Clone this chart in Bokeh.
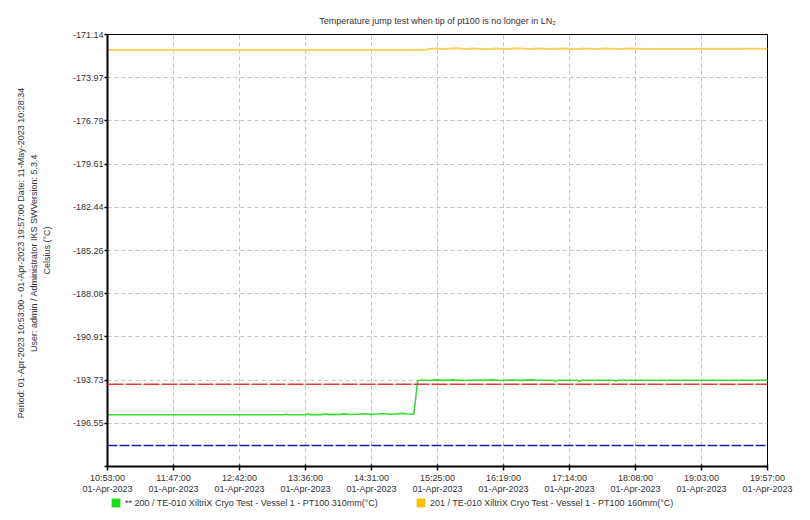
import pandas as pd
from bokeh.plotting import figure
from bokeh.layouts import column
from bokeh.models import Range1d, FixedTicker, Span, Legend, LegendItem
from bokeh.embed import file_html
from bokeh.resources import INLINE

# ---------------- data ----------------
day = "2023-04-01"
start_time = "10:53:00"
end_time = "19:57:00"

x_tick_labels = ["10:53:00", "11:47:00", "12:42:00", "13:36:00", "14:31:00", "15:25:00",
                 "16:19:00", "17:14:00", "18:08:00", "19:03:00", "19:57:00"]
x_date_label = "01-Apr-2023"

y_tick_labels = ["-171.14", "-173.97", "-176.79", "-179.61", "-182.44",
                 "-185.26", "-188.08", "-190.91", "-193.73", "-196.55"]
y_min = -199.38
y_max = -171.14

green_time = ["10:53:00", "13:18:00", "13:20:00", "13:22:00", "13:36:00", "13:38:00", "13:40:00",
              "13:50:00", "13:53:00", "13:56:00", "14:05:00", "14:08:00", "14:12:00", "14:20:00",
              "14:24:00", "14:30:00", "14:36:00", "14:40:00", "14:46:00", "14:52:00", "14:56:00",
              "15:00:00", "15:05:30", "15:08:40", "15:12:00", "15:18:00", "15:24:00", "15:30:00",
              "15:38:00", "15:46:00", "15:54:00", "16:02:00", "16:10:00", "16:18:00", "16:26:00",
              "16:34:00", "16:42:00", "16:47:00", "17:00:00", "17:02:00", "17:04:00", "17:20:00",
              "17:22:00", "17:24:00", "17:50:00", "17:52:00", "17:54:00", "19:57:00"]
green_temp = [-196.00, -196.00, -195.96, -196.00, -196.00, -195.95, -195.99,
              -195.99, -195.95, -195.99, -195.97, -195.94, -195.98, -195.96,
              -195.93, -195.97, -195.95, -195.92, -195.96, -195.94, -195.91,
              -195.95, -195.96, -193.77, -193.73, -193.76, -193.72, -193.75,
              -193.72, -193.76, -193.73, -193.75, -193.72, -193.76, -193.73,
              -193.75, -193.72, -193.74, -193.74, -193.80, -193.74, -193.74,
              -193.80, -193.74, -193.74, -193.79, -193.74, -193.74]

yellow_time = ["10:53:00", "15:15:00", "15:18:00", "15:24:00", "15:30:00", "15:40:00", "15:48:00",
               "15:55:00", "16:05:00", "16:12:00", "16:22:00", "16:30:00", "16:40:00", "16:48:00",
               "16:58:00", "17:10:00", "17:16:00", "17:25:00", "17:35:00", "17:45:00", "17:55:00",
               "18:05:00", "18:17:00", "19:57:00"]
yellow_temp = [-172.16, -172.15, -172.09, -172.05, -172.09, -172.04, -172.08,
               -172.05, -172.10, -172.06, -172.09, -172.04, -172.08, -172.05,
               -172.09, -172.06, -172.10, -172.05, -172.09, -172.06, -172.09,
               -172.05, -172.08, -172.07]

red_limit = -194.00
blue_limit = -198.00

green_label = "** 200 / TE-010 XiltriX Cryo Test - Vessel 1 - PT100 310mm(°C)"
yellow_label = "201 / TE-010 XiltriX Cryo Test - Vessel 1 - PT100 160mm(°C)"
title_text = "Temperature jump test when tip of pt100 is no longer in LN\u2082"
y_axis_text = ("Period: 01-Apr-2023 10:53:00 - 01-Apr-2023 19:57:00   Date: 11-May-2023 10:28:34\n"
               "User: admin / Administrator IKS   SWVersion: 5.3.4\n"
               "Celsius (°C)")

# ---------------- derived ----------------
def to_dt(times):
    return pd.to_datetime([f"{day} {t}" for t in times])

t0 = pd.Timestamp(f"{day} {start_time}")
t1 = pd.Timestamp(f"{day} {end_time}")
t0_ms = int(t0.value // 10**6)
t1_ms = int(t1.value // 10**6)
n_x = len(x_tick_labels) - 1
x_ticks = [int(round(t0_ms + i * (t1_ms - t0_ms) / n_x)) for i in range(n_x + 1)]
x_over = {tk: f"{lab}\n{x_date_label}" for tk, lab in zip(x_ticks, x_tick_labels)}

y_ticks = [float(s) for s in y_tick_labels] + [y_min]
y_over = {float(s): s for s in y_tick_labels}
y_over[y_min] = ""

FONT = "Liberation Sans"
TXT = "#333333"
GREEN = "#35e035"
YELLOW = "#f8d35e"

p = figure(width=800, height=497, x_axis_type="datetime",
           x_range=Range1d(t0, t1), y_range=Range1d(y_min, y_max),
           output_backend="svg", toolbar_location=None,
           min_border_left=107, min_border_right=33, min_border_top=34, min_border_bottom=30)
p.title.text = title_text
p.title.align = "center"
p.title.text_font = FONT
p.title.text_font_size = "9px"
p.title.text_font_style = "normal"
p.title.text_color = TXT
p.title.standoff = 18

p.outline_line_color = "black"
p.outline_line_width = 1

for g in (p.xgrid, p.ygrid):
    g.grid_line_color = "#c4c4c4"
    g.grid_line_dash = "4 3"
    g.grid_line_width = 1

p.xaxis.ticker = FixedTicker(ticks=x_ticks)
p.xaxis.major_label_overrides = x_over
p.yaxis.ticker = FixedTicker(ticks=y_ticks)
p.yaxis.major_label_overrides = y_over

for ax in (p.xaxis, p.yaxis):
    ax.axis_line_color = "black"
    ax.axis_line_width = 2
    ax.major_tick_line_color = "black"
    ax.major_tick_line_width = 1.5
    ax.minor_tick_line_color = None
    ax.major_label_text_font = FONT
    ax.major_label_text_font_size = "9px"
    ax.major_label_text_color = TXT
p.xaxis.major_tick_out = 4
p.xaxis.major_tick_in = 2
p.xaxis.major_label_standoff = 2
p.xaxis.major_label_text_line_height = 1.15
p.yaxis.major_tick_out = 3
p.yaxis.major_tick_in = 0
p.yaxis.major_label_standoff = 1

p.yaxis.axis_label = y_axis_text
p.yaxis.axis_label_text_font = FONT
p.yaxis.axis_label_text_font_size = "9px"
p.yaxis.axis_label_text_font_style = "normal"
p.yaxis.axis_label_text_color = TXT
p.yaxis.axis_label_text_line_height = 1.3
p.yaxis.axis_label_standoff = 18

# limit lines
p.add_layout(Span(location=red_limit, dimension="width", line_color="#ef3535",
                  line_width=1.5, line_dash="16 2"))
p.add_layout(Span(location=blue_limit, dimension="width", line_color="#1c1c9c",
                  line_width=1.5, line_dash="10 2"))

p.line(to_dt(yellow_time), yellow_temp, line_color=YELLOW, line_width=2)
p.line(to_dt(green_time), green_temp, line_color=GREEN, line_width=1.6)

# ---------------- legend strip ----------------
lg = figure(width=800, height=15, x_range=Range1d(0, 1), y_range=Range1d(0, 1),
            output_backend="svg", toolbar_location=None,
            min_border=0, min_border_left=0, min_border_right=0,
            min_border_top=0, min_border_bottom=0)
lg.axis.visible = False
lg.grid.visible = False
lg.outline_line_color = None

nan = float("nan")
q_green = lg.quad(left=[nan], right=[nan], top=[nan], bottom=[nan],
                  fill_color="#16e016", line_color=None)
q_yellow = lg.quad(left=[nan], right=[nan], top=[nan], bottom=[nan],
                   fill_color="#ffc000", line_color=None)

legend = Legend(items=[LegendItem(label=green_label, renderers=[q_green]),
                       LegendItem(label=yellow_label, renderers=[q_yellow])],
                location=(3, 4), orientation="horizontal",
                padding=0, margin=0, spacing=37,
                glyph_width=11, glyph_height=11, label_height=11, label_standoff=4,
                label_text_font=FONT, label_text_font_size="9px", label_text_color=TXT,
                border_line_color=None, background_fill_alpha=0)
lg.add_layout(legend)

layout = column(p, lg, spacing=0)

open("out.html", "w").write(file_html(layout, INLINE))
